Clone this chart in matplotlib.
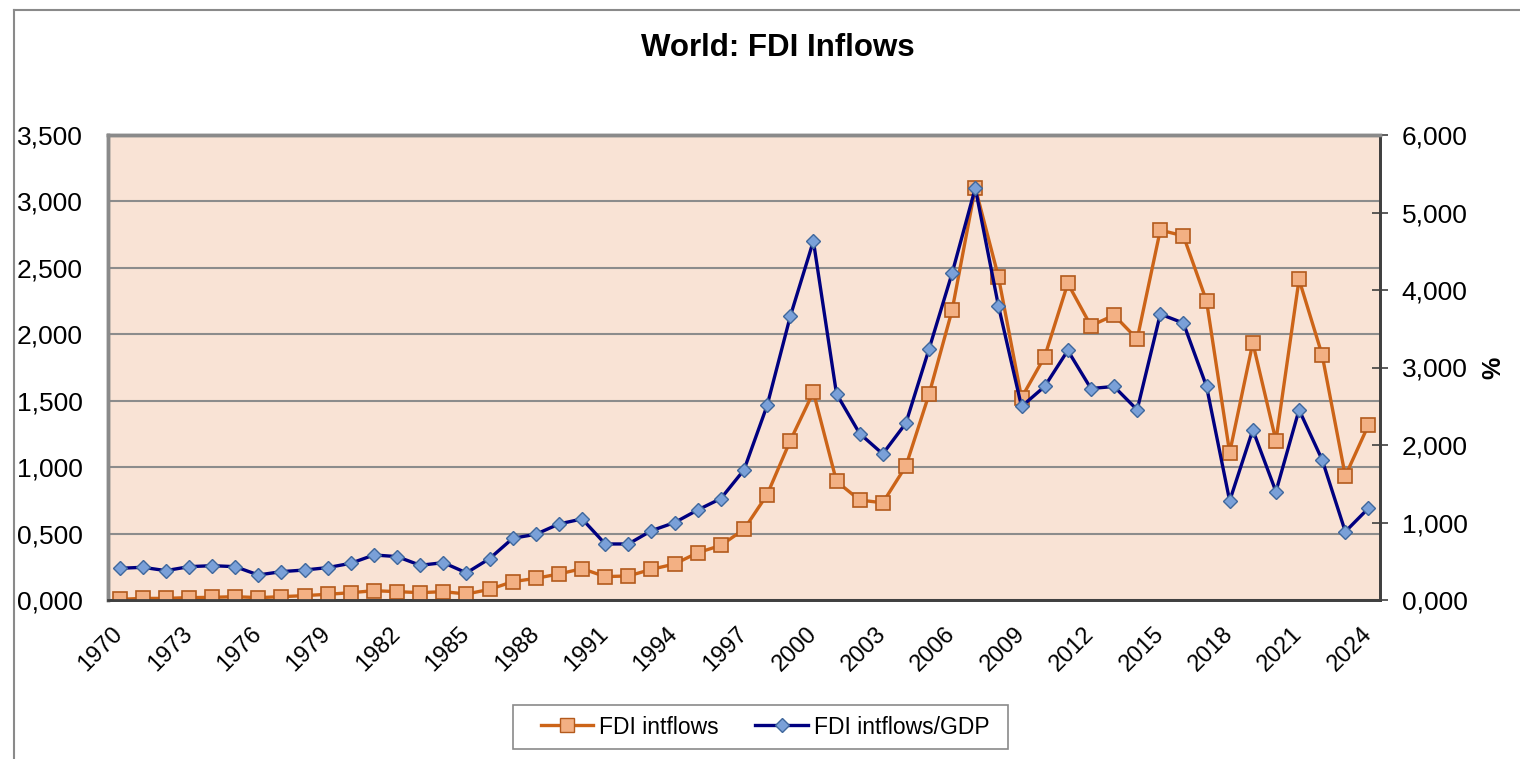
import matplotlib
matplotlib.use("Agg")
import matplotlib.pyplot as plt
from matplotlib.lines import Line2D
from matplotlib.patches import Rectangle
from matplotlib.ticker import FuncFormatter, MultipleLocator

plt.rcParams['font.family'] = ['Liberation Sans', 'DejaVu Sans']

years = list(range(1970, 2025))

# FDI inflows (left axis)
fdi_inflows = [0.005, 0.012, 0.012, 0.018, 0.020, 0.025, 0.018, 0.025, 0.033, 0.043,
               0.055, 0.070, 0.063, 0.055, 0.063, 0.045, 0.080, 0.138, 0.163, 0.196,
               0.236, 0.176, 0.181, 0.231, 0.271, 0.356, 0.411, 0.532, 0.793, 1.199,
               1.565, 0.893, 0.752, 0.732, 1.008, 1.548, 2.182, 3.103, 2.433, 1.522,
               1.831, 2.383, 2.064, 2.144, 1.964, 2.784, 2.741, 2.250, 1.109, 1.936,
               1.199, 2.413, 1.843, 0.933, 1.317]

# FDI inflows / GDP in % (right axis)
fdi_gdp = [0.409, 0.422, 0.379, 0.430, 0.443, 0.430, 0.323, 0.366, 0.387, 0.418,
           0.474, 0.581, 0.560, 0.448, 0.482, 0.350, 0.534, 0.796, 0.848, 0.981,
           1.046, 0.723, 0.723, 0.895, 0.999, 1.162, 1.309, 1.679, 2.510, 3.659,
           4.632, 2.660, 2.148, 1.885, 2.282, 3.237, 4.219, 5.316, 3.797, 2.497,
           2.755, 3.220, 2.729, 2.755, 2.454, 3.689, 3.573, 2.755, 1.279, 2.195,
           1.399, 2.454, 1.808, 0.882, 1.184]

tick_years = years[::3]


def comma_fmt(v, pos):
    return f"{v:.3f}".replace('.', ',')


fig = plt.figure(figsize=(15.2, 7.59), dpi=100)
ax = fig.add_axes([108 / 1520, 1 - 600 / 759, (1380 - 108) / 1520, (600 - 135) / 759])
ax.set_facecolor('#F9E3D5')

ax.plot(years, fdi_inflows, color='#CC6418', lw=2.4, marker='s', markersize=10,
        markerfacecolor='#F3B083', markeredgecolor='#B35A1C', markeredgewidth=1.2, zorder=3)
ax.set_ylim(0, 3.5)
ax.set_xlim(1969.5, 2024.5)
ax.yaxis.set_major_locator(MultipleLocator(0.5))
ax.yaxis.set_major_formatter(FuncFormatter(comma_fmt))
ax.grid(axis='y', color='#8C8C8C', lw=1.5, zorder=0)
ax.set_axisbelow(True)
ax.set_xticks(tick_years)
ax.set_xticklabels([str(y) for y in tick_years], rotation=45, ha='right', va='center',
                   rotation_mode='anchor')
ax.tick_params(axis='x', length=0, pad=22, labelsize=17)
ax.tick_params(axis='y', length=0, pad=18, labelsize=19)

ax2 = ax.twinx()
ax2.plot(years, fdi_gdp, color='#000080', lw=2.4, marker='D', markersize=7.5,
         markerfacecolor='#7AA0D8', markeredgecolor='#3F679C', markeredgewidth=1.0, zorder=4)
ax2.set_ylim(0, 6)
ax2.yaxis.set_major_locator(MultipleLocator(1))
ax2.yaxis.set_major_formatter(FuncFormatter(comma_fmt))
ax2.tick_params(axis='y', direction='inout', length=11, width=1.2, color='#404040',
                pad=10, labelsize=19)
ax2.set_ylabel('%', fontsize=18, fontweight='bold', labelpad=10)

for a in (ax, ax2):
    a.spines['left'].set_color('#8A8A8A')
    a.spines['left'].set_linewidth(2.5)
    a.spines['top'].set_color('#8A8A8A')
    a.spines['top'].set_linewidth(2.5)
    a.spines['bottom'].set_color('#404040')
    a.spines['bottom'].set_linewidth(2)
    a.spines['right'].set_color('#404040')
    a.spines['right'].set_linewidth(2)

fig.text(778 / 1520, 1 - 48 / 759, 'World: FDI Inflows', ha='center', va='center',
         fontsize=22.5, fontweight='bold')

handles = [Line2D([], [], color='#CC6418', lw=2.4, marker='s', markersize=10,
                  markerfacecolor='#F3B083', markeredgecolor='#B35A1C'),
           Line2D([], [], color='#000080', lw=2.4, marker='D', markersize=7.5,
                  markerfacecolor='#7AA0D8', markeredgecolor='#3F679C')]
fig.legend(handles, ['FDI intflows', 'FDI intflows/GDP'], loc='center',
           bbox_to_anchor=(765 / 1520, 1 - 727 / 759), ncol=2, fontsize=16.5,
           frameon=False, handlelength=2.3, columnspacing=1.6, handletextpad=0.25)
fig.add_artist(Rectangle((513 / 1520, 1 - 749 / 759), (1008 - 513) / 1520, 44 / 759,
                         transform=fig.transFigure, fill=False, edgecolor='#8A8A8A', lw=1.2))

# outer chart border (left and top edges visible)
fig.add_artist(Line2D([14 / 1520, 14 / 1520], [0, 1 - 10 / 759], transform=fig.transFigure,
                      color='#8A8A8A', lw=1.5))
fig.add_artist(Line2D([14 / 1520, 1], [1 - 10 / 759, 1 - 10 / 759], transform=fig.transFigure,
                      color='#8A8A8A', lw=1.5))

fig.savefig('out.png', dpi=100)
